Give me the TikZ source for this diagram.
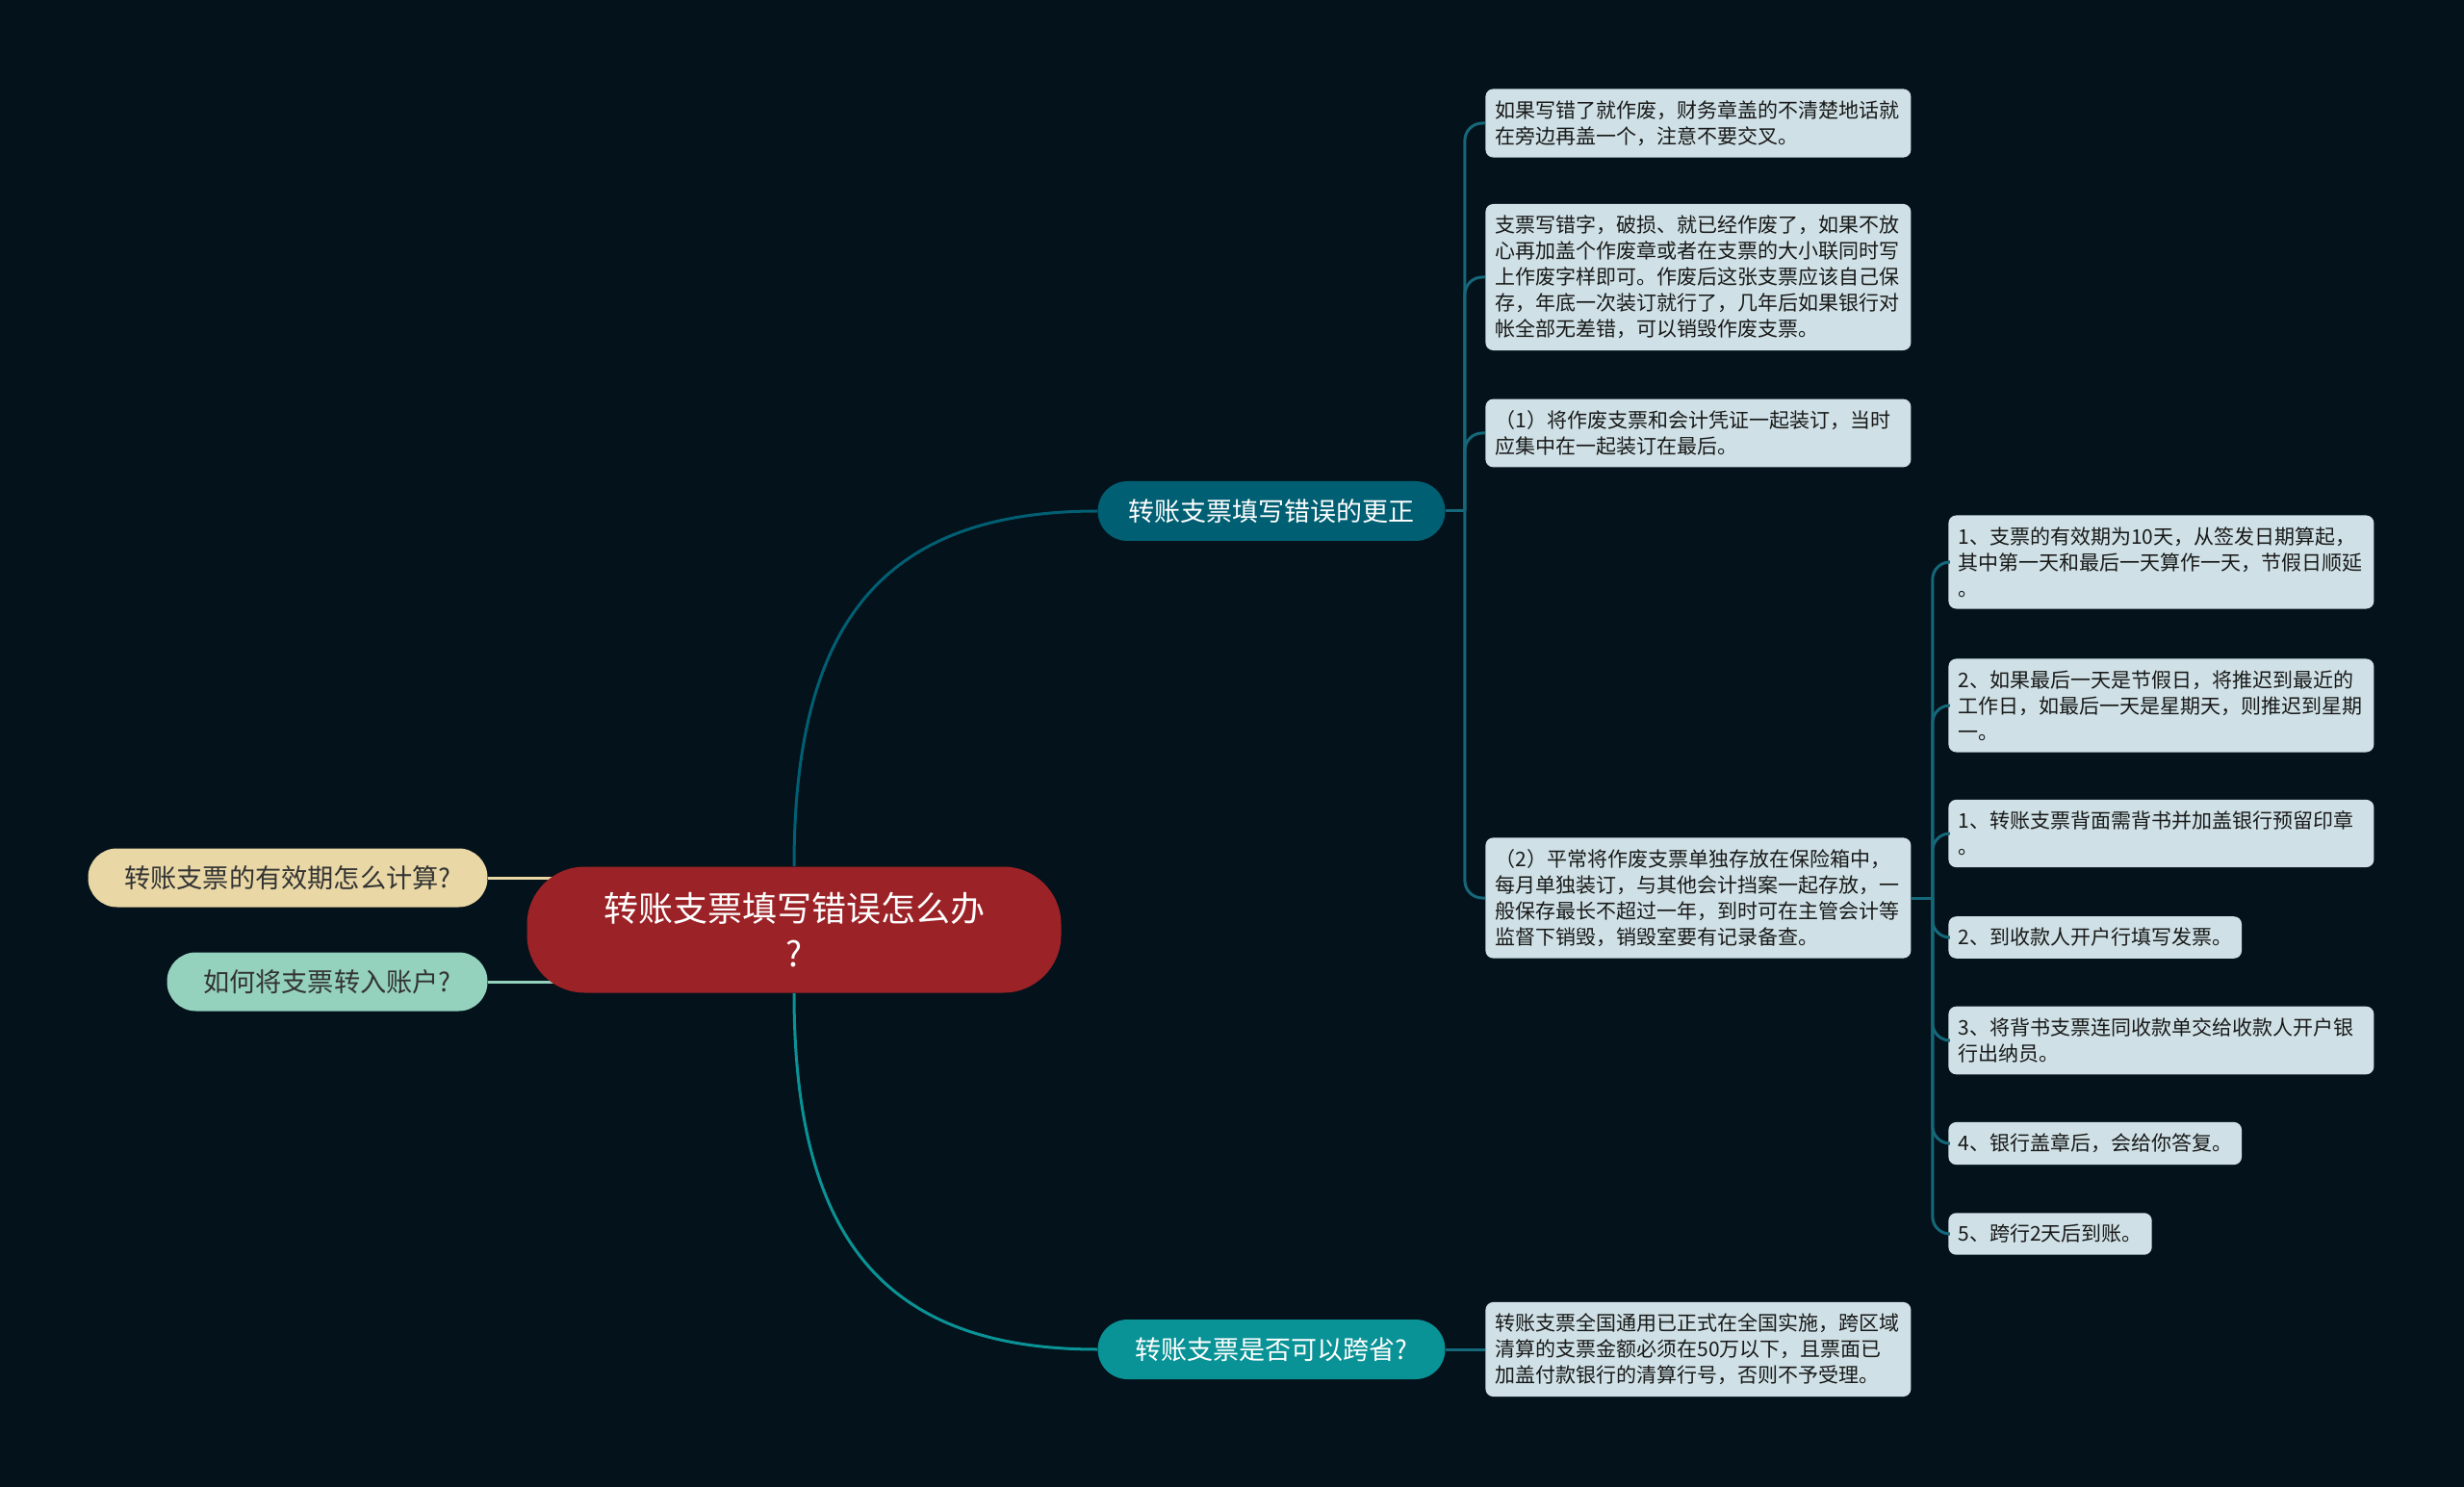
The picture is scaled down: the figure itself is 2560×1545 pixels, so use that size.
\documentclass[tikz,border=0pt]{standalone}
\usepackage{fontspec}
\setmainfont{Noto Sans CJK SC}
\pgfdeclarelayer{bg}
\pgfdeclarelayer{lines}
\pgfsetlayers{bg,lines,main}
\definecolor{bgcol}{HTML}{04121B}
\definecolor{rootcol}{HTML}{9B2226}
\definecolor{sandcol}{HTML}{E9D8A6}
\definecolor{mintcol}{HTML}{94D2BD}
\definecolor{deepteal}{HTML}{005F73}
\definecolor{brightteal}{HTML}{0A9396}
\definecolor{leafcol}{HTML}{CFE1E6}
\definecolor{linkcol}{HTML}{15687A}
\tikzset{
  rootbox/.style={fill=rootcol, text=white, rounded corners=30pt, align=center,
    minimum width=277.5pt, minimum height=65.5pt, font=\fontsize{18}{23.5}\selectfont},
  topicbox/.style={text=white, rounded corners=15.5pt, minimum width=180.5pt,
    minimum height=31pt, font=\fontsize{13.5}{16}\selectfont},
  sidebox/.style={text=black!80, rounded corners=15pt, minimum height=30.5pt,
    font=\fontsize{13.6}{16}\selectfont},
  leafbox/.style={fill=leafcol, text=black!90, rounded corners=4pt, align=left,
    anchor=west, inner xsep=5pt, inner ysep=6pt, font=\fontsize{10.5}{13.5}\selectfont},
  widebox/.style={leafbox, text width=211pt},
  link/.style={line width=1.5pt},
  leafline/.style={line width=1.5pt, linkcol, rounded corners=9pt}
}
\begin{document}
\begin{tikzpicture}[x=0.5pt, y=-0.5pt]
  \useasboundingbox (0,0) rectangle (2560,1545);
  \begin{pgfonlayer}{bg}
    \fill[bgcol] (0,0) rectangle (2560,1545);
  \end{pgfonlayer}

  \node[rootbox] (root) at (825,966) {转账支票填写错误怎么办\\?};
  \node[sidebox, fill=sandcol, minimum width=207.5pt] (s1) at (299,912) {转账支票的有效期怎么计算?};
  \node[sidebox, fill=mintcol, minimum width=166.5pt] (s2) at (340,1020) {如何将支票转入账户?};

  \node[topicbox, fill=deepteal] (b1) at (1321,531) {转账支票填写错误的更正};
  \node[topicbox, fill=brightteal] (b2) at (1321,1402) {转账支票是否可以跨省?};

  \node[widebox] (f1) at (1543,128) {如果写错了就作废，财务章盖的不清楚地话就\\在旁边再盖一个，注意不要交叉。};
  \node[widebox] (f2) at (1543,288) {支票写错字，破损、就已经作废了，如果不放\\心再加盖个作废章或者在支票的大小联同时写\\上作废字样即可。作废后这张支票应该自己保\\存，年底一次装订就行了，几年后如果银行对\\帐全部无差错，可以销毁作废支票。};
  \node[widebox] (f3) at (1543,450) {（1）将作废支票和会计凭证一起装订，当时\\应集中在一起装订在最后。};
  \node[widebox] (f4) at (1543,933) {（2）平常将作废支票单独存放在保险箱中，\\每月单独装订，与其他会计挡案一起存放，一\\般保存最长不超过一年，到时可在主管会计等\\监督下销毁，销毁室要有记录备查。};
  \node[widebox] (f5) at (1543,1402) {转账支票全国通用已正式在全国实施，跨区域\\清算的支票金额必须在50万以下，且票面已\\加盖付款银行的清算行号，否则不予受理。};

  \node[widebox] (r1) at (2024,584) {1、支票的有效期为10天，从签发日期算起，\\其中第一天和最后一天算作一天，节假日顺延\\。};
  \node[widebox] (r2) at (2024,733) {2、如果最后一天是节假日，将推迟到最近的\\工作日，如最后一天是星期天，则推迟到星期\\一。};
  \node[widebox] (r3) at (2024,866) {1、转账支票背面需背书并加盖银行预留印章\\。};
  \node[leafbox] (r4) at (2024,974) {2、到收款人开户行填写发票。};
  \node[widebox] (r5) at (2024,1081) {3、将背书支票连同收款单交给收款人开户银\\行出纳员。};
  \node[leafbox] (r6) at (2024,1188) {4、银行盖章后，会给你答复。};
  \node[leafbox] (r7) at (2024,1282) {5、跨行2天后到账。};

  \begin{pgfonlayer}{lines}
    \draw[link, sandcol] (s1.east) -- (s1.east -| root.center);
    \draw[link, mintcol] (s2.east) -- (s2.east -| root.center);
    \draw[link, deepteal] (root.north) .. controls +(0,-248) and +(-227,0) .. (b1.west);
    \draw[link, brightteal] (root.south) .. controls +(0,248) and +(-227,0) .. (b2.west);
  \end{pgfonlayer}

  % leaves
  \draw[leafline] (b1.east) -- ++(20,0) coordinate (j1);
  \foreach \n in {f1,f2,f3,f4}
    \draw[leafline] (j1) |- (\n.west);
  \draw[leafline] (f4.east) -- ++(22,0) coordinate (j2);
  \foreach \n in {r1,r2,r3,r4,r5,r6,r7}
    \draw[leafline] (j2) |- (\n.west);
  \draw[link, linkcol] (b2.east) -- (f5.west);
\end{tikzpicture}
\end{document}
